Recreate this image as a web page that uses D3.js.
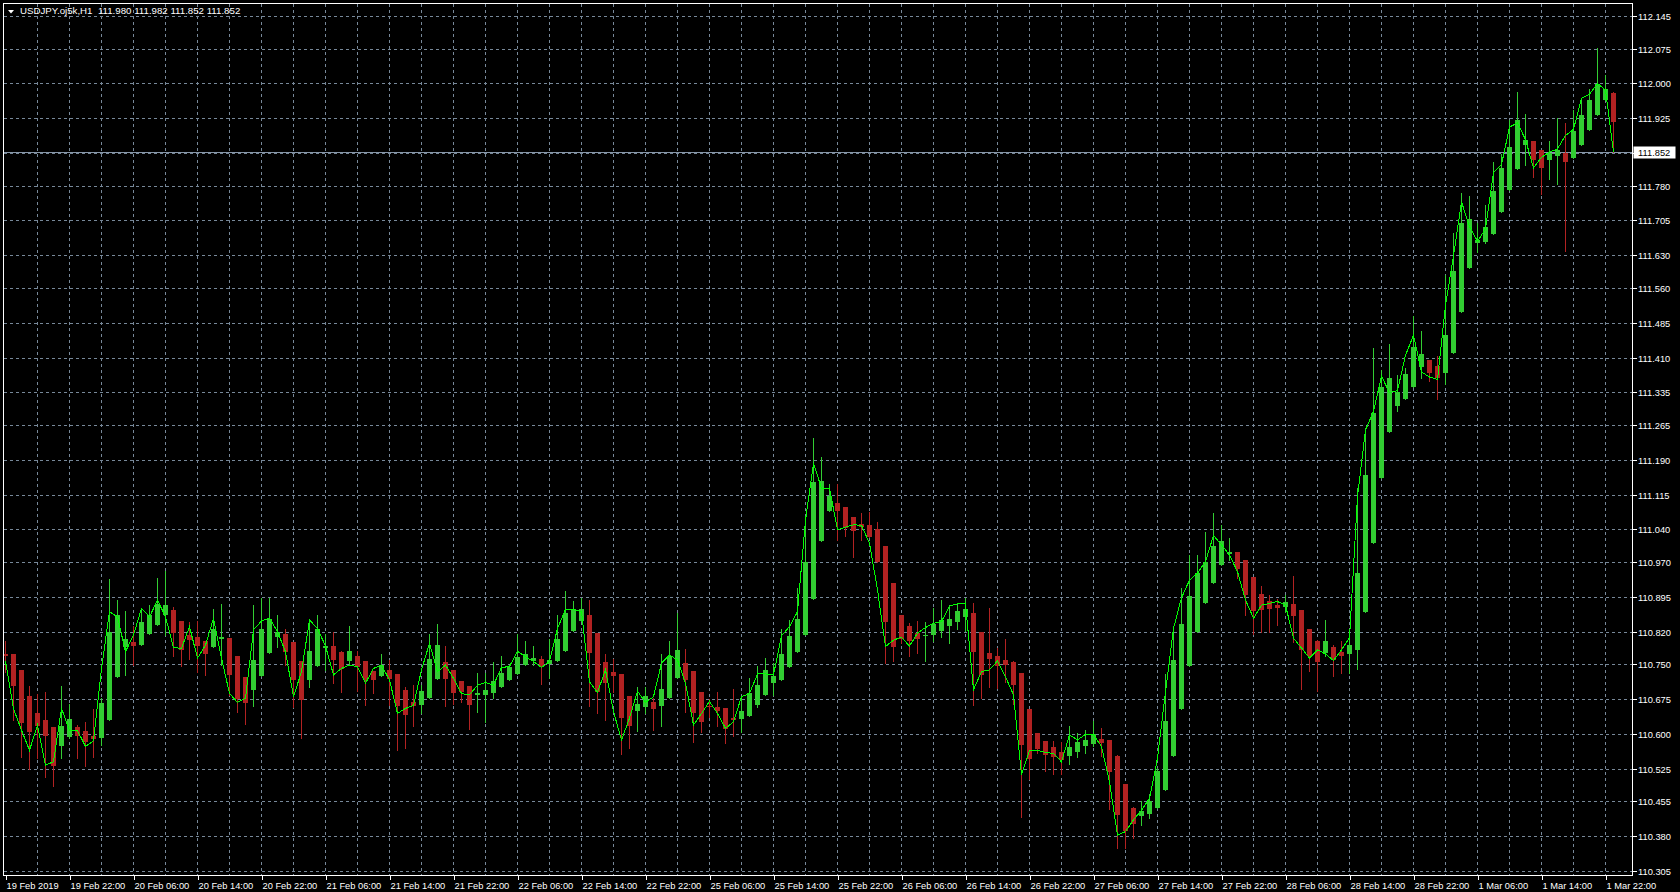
<!DOCTYPE html>
<html><head><meta charset="utf-8">
<script src="https://cdn.jsdelivr.net/npm/d3@7"></script>
<style>
html,body{margin:0;padding:0;background:#000;overflow:hidden}
svg{display:block}
text{font-family:"Liberation Sans",Arial,sans-serif;font-size:9.3px;fill:#fff}
</style></head><body>
<svg id="chart" width="1680" height="892"></svg>
<script>
const symbolTitle = "USDJPY.oj5k,H1  111.980 111.982 111.852 111.852";
const currentPrice = 111.852;

const opens = [110.773,110.772,110.738,110.682,110.646,110.630,110.615,110.573,110.594,110.614,
110.606,110.595,110.592,110.629,110.723,110.786,110.798,110.791,110.815,110.835,
110.856,110.867,110.843,110.813,110.809,110.800,110.786,110.805,110.807,110.768,
110.723,110.695,110.725,110.775,110.809,110.815,110.798,110.757,110.715,110.747,
110.784,110.789,110.777,110.758,110.768,110.757,110.735,110.725,110.738,110.729,
110.695,110.669,110.663,110.678,110.719,110.755,110.738,110.714,110.703,110.683,
110.684,110.689,110.700,110.715,110.728,110.748,110.758,110.761,110.751,110.756,
110.779,110.821,110.844,110.856,110.817,110.755,110.733,110.730,110.682,110.650,
110.657,110.669,110.661,110.678,110.721,110.753,110.735,110.690,110.661,110.659,
110.656,110.635,110.633,110.639,110.662,110.684,110.710,110.717,110.745,110.777,
110.812,110.891,111.016,111.080,111.097,111.088,111.066,111.052,111.050,111.040,
111.004,110.925,110.856,110.832,110.818,110.812,110.812,110.822,110.833,110.840,
110.852,110.860,110.819,110.774,110.768,110.759,110.754,110.731,110.654,110.601,
110.585,110.571,110.561,110.553,110.562,110.573,110.578,110.589,110.587,110.553,
110.492,110.441,110.424,110.428,110.441,110.479,110.553,110.654,110.747,110.820,
110.882,110.925,110.964,110.987,110.992,110.974,110.938,110.901,110.885,110.878,
110.873,110.880,110.866,110.825,110.799,110.774,110.788,110.776,110.772,110.781,
110.863,111.010,111.151,111.249,111.306,111.321,111.347,111.390,111.404,111.391,
111.377,111.419,111.507,111.602,111.656,111.658,111.675,111.723,111.770,111.815,
111.868,111.875,111.857,111.836,111.843,111.850,111.839,111.868,111.899,111.931,
111.964,111.980];

const highs = [110.799,110.773,110.738,110.703,110.685,110.690,110.615,110.703,110.664,110.619,
110.626,110.653,110.677,110.933,110.888,110.865,110.832,110.870,110.878,110.935,
110.951,110.873,110.843,110.840,110.843,110.800,110.869,110.879,110.807,110.768,
110.723,110.878,110.892,110.892,110.856,110.826,110.798,110.757,110.845,110.856,
110.814,110.820,110.779,110.832,110.778,110.757,110.735,110.772,110.759,110.730,
110.700,110.705,110.705,110.814,110.836,110.789,110.738,110.714,110.703,110.732,
110.732,110.755,110.768,110.748,110.814,110.799,110.789,110.768,110.804,110.856,
110.908,110.886,110.892,110.888,110.817,110.772,110.761,110.730,110.682,110.701,
110.701,110.677,110.772,110.800,110.861,110.783,110.735,110.690,110.675,110.690,
110.656,110.697,110.680,110.720,110.746,110.763,110.752,110.825,110.845,110.913,
111.062,111.236,111.195,111.137,111.138,111.088,111.066,111.075,111.078,111.055,
111.004,110.925,110.856,110.839,110.843,110.841,110.870,110.888,110.878,110.881,
110.893,110.882,110.819,110.871,110.784,110.804,110.757,110.731,110.654,110.601,
110.585,110.585,110.582,110.617,110.601,110.608,110.628,110.613,110.587,110.555,
110.492,110.443,110.456,110.470,110.526,110.728,110.827,110.913,110.985,110.986,
111.034,111.075,111.050,111.021,110.992,110.974,110.938,110.918,110.900,110.890,
110.899,110.940,110.866,110.825,110.803,110.845,110.791,110.799,110.815,111.129,
111.258,111.431,111.383,111.439,111.372,111.388,111.499,111.468,111.404,111.413,
111.587,111.678,111.765,111.758,111.700,111.738,111.830,111.848,111.922,111.982,
111.935,111.875,111.857,111.875,111.925,111.915,111.942,111.968,111.988,112.077,
112.017,111.982];

const lows = [110.734,110.629,110.551,110.525,110.549,110.507,110.489,110.548,110.591,110.549,
110.532,110.551,110.576,110.629,110.723,110.727,110.748,110.791,110.815,110.835,
110.813,110.768,110.747,110.761,110.733,110.727,110.786,110.748,110.684,110.648,
110.621,110.661,110.725,110.775,110.788,110.748,110.657,110.592,110.700,110.747,
110.738,110.710,110.691,110.748,110.692,110.663,110.689,110.725,110.662,110.566,
110.569,110.616,110.644,110.678,110.719,110.661,110.664,110.668,110.610,110.648,
110.626,110.678,110.700,110.715,110.728,110.748,110.748,110.708,110.720,110.756,
110.779,110.821,110.844,110.661,110.644,110.629,110.691,110.556,110.569,110.607,
110.644,110.608,110.618,110.678,110.721,110.648,110.582,110.605,110.636,110.616,
110.580,110.596,110.605,110.639,110.659,110.684,110.684,110.717,110.745,110.777,
110.812,110.891,111.016,111.080,111.017,111.026,110.981,111.017,111.024,110.970,
110.752,110.756,110.795,110.768,110.775,110.758,110.799,110.809,110.795,110.825,
110.822,110.663,110.677,110.700,110.698,110.712,110.664,110.422,110.504,110.558,
110.521,110.513,110.513,110.535,110.551,110.560,110.575,110.553,110.438,110.355,
110.354,110.377,110.405,110.418,110.441,110.479,110.553,110.654,110.747,110.820,
110.882,110.925,110.964,110.974,110.935,110.856,110.814,110.820,110.820,110.834,
110.863,110.797,110.696,110.736,110.693,110.767,110.725,110.732,110.732,110.740,
110.863,111.010,111.151,111.249,111.296,111.320,111.347,111.366,111.359,111.321,
111.354,111.419,111.507,111.602,111.638,111.656,111.675,111.723,111.770,111.815,
111.824,111.799,111.763,111.794,111.783,111.640,111.839,111.868,111.899,111.931,
111.964,111.852];

const closes = [110.768,110.704,110.624,110.605,110.616,110.596,110.532,110.616,110.632,110.596,
110.583,110.590,110.667,110.820,110.856,110.804,110.790,110.841,110.856,110.879,
110.878,110.818,110.781,110.802,110.789,110.772,110.825,110.809,110.727,110.675,
110.667,110.759,110.826,110.847,110.820,110.776,110.716,110.673,110.779,110.826,
110.789,110.759,110.740,110.778,110.745,110.715,110.717,110.748,110.719,110.661,
110.641,110.661,110.692,110.761,110.791,110.719,110.689,110.691,110.663,110.689,
110.695,110.714,110.732,110.744,110.766,110.771,110.763,110.745,110.759,110.804,
110.860,110.869,110.869,110.775,110.691,110.710,110.725,110.635,110.618,110.664,
110.682,110.654,110.697,110.768,110.781,110.717,110.646,110.626,110.657,110.650,
110.611,110.631,110.649,110.689,110.705,110.738,110.725,110.772,110.811,110.847,
110.970,111.143,111.144,111.113,111.080,111.044,111.037,111.045,111.024,110.970,
110.841,110.788,110.804,110.800,110.804,110.813,110.837,110.845,110.847,110.865,
110.869,110.777,110.727,110.761,110.746,110.749,110.705,110.576,110.546,110.568,
110.555,110.551,110.544,110.571,110.583,110.587,110.600,110.581,110.519,110.426,
110.392,110.407,110.434,110.456,110.520,110.628,110.759,110.837,110.897,110.946,
110.969,111.005,111.015,110.991,110.955,110.899,110.865,110.867,110.869,110.871,
110.883,110.854,110.781,110.767,110.754,110.799,110.760,110.767,110.792,110.946,
111.158,111.290,111.346,111.367,111.336,111.374,111.432,111.417,111.376,111.366,
111.459,111.596,111.699,111.709,111.663,111.691,111.768,111.818,111.863,111.921,
111.879,111.836,111.818,111.850,111.857,111.830,111.897,111.932,111.964,111.999,
111.988,111.916];

const lineValues = [110.756,110.654,110.608,110.565,110.619,110.533,110.540,110.655,110.608,110.607,
110.573,110.585,110.741,110.863,110.852,110.777,110.813,110.870,110.852,110.888,
110.852,110.786,110.784,110.831,110.763,110.791,110.849,110.763,110.687,110.668,
110.677,110.824,110.843,110.849,110.820,110.777,110.680,110.734,110.845,110.827,
110.789,110.727,110.741,110.748,110.745,110.709,110.741,110.748,110.716,110.644,
110.655,110.661,110.738,110.795,110.734,110.748,110.720,110.687,110.684,110.705,
110.711,110.705,110.743,110.745,110.778,110.766,110.756,110.743,110.756,110.827,
110.868,110.868,110.863,110.712,110.689,110.738,110.648,110.587,110.634,110.692,
110.668,110.680,110.752,110.770,110.759,110.709,110.619,110.644,110.670,110.644,
110.612,110.626,110.680,110.687,110.729,110.729,110.727,110.811,110.831,110.863,
111.060,111.182,111.129,111.129,111.039,111.045,111.050,111.049,111.010,110.910,
110.788,110.802,110.808,110.789,110.817,110.829,110.838,110.842,110.875,110.880,
110.881,110.695,110.734,110.738,110.757,110.723,110.684,110.512,110.565,110.565,
110.560,110.558,110.540,110.598,110.587,110.599,110.598,110.573,110.497,110.382,
110.390,110.415,110.436,110.461,110.548,110.691,110.827,110.893,110.931,110.946,
110.971,111.027,111.007,110.985,110.949,110.888,110.849,110.877,110.881,110.885,
110.877,110.806,110.785,110.763,110.781,110.772,110.758,110.781,110.807,111.111,
111.254,111.294,111.370,111.334,111.339,111.415,111.458,111.379,111.368,111.363,
111.522,111.629,111.745,111.692,111.660,111.687,111.808,111.825,111.906,111.915,
111.879,111.818,111.841,111.852,111.859,111.888,111.901,111.968,111.977,111.999,
111.986,111.852];

const priceTicks = [112.145,112.075,112.000,111.925,111.850,111.780,111.705,111.630,111.560,111.485,
111.410,111.335,111.265,111.190,111.115,111.040,110.970,110.895,110.820,110.750,
110.675,110.600,110.525,110.455,110.380,110.305];

const timeLabelBars = [0,8,16,24,32,40,48,56,64,72,80,88,96,104,112,120,128,136,144,152,160,168,176,184,192,200];
const timeLabels = ["19 Feb 2019","19 Feb 22:00","20 Feb 06:00","20 Feb 14:00","20 Feb 22:00","21 Feb 06:00",
"21 Feb 14:00","21 Feb 22:00","22 Feb 06:00","22 Feb 14:00","22 Feb 22:00","25 Feb 06:00","25 Feb 14:00",
"25 Feb 22:00","26 Feb 06:00","26 Feb 14:00","26 Feb 22:00","27 Feb 06:00","27 Feb 14:00","27 Feb 22:00",
"28 Feb 06:00","28 Feb 14:00","28 Feb 22:00","1 Mar 06:00","1 Mar 14:00","1 Mar 22:00"];

// ---------- layout ----------
const W = 1680, H = 892;
const plot = {left: 3.5, top: 3.5, right: 1632.5, bottom: 875.5};
const N = opens.length;
const barStep = 8, bodyW = 5;
const COL_UP = "#32cd32", COL_DN = "#b22222", COL_LINE = "#00ff00", COL_GRID = "#778899";

const svg = d3.select("#chart");
svg.append("rect").attr("width", W).attr("height", H).attr("fill", "#000");

const x = d3.scaleLinear().domain([0, N - 1]).range([5.5, 5.5 + barStep * (N - 1)]);
const y = d3.scaleLinear().domain([110.305, 112.145]).range([871, 16]);
const py = v => Math.round(y(v)) + 0.5;

svg.append("clipPath").attr("id", "clip").append("rect")
  .attr("x", plot.left + 0.5).attr("y", plot.top + 0.5)
  .attr("width", plot.right - plot.left - 1).attr("height", plot.bottom - plot.top - 1);

const g = svg.append("g").attr("clip-path", "url(#clip)");

// grid
const grid = g.append("g").attr("stroke", COL_GRID).attr("stroke-width", 1)
  .attr("stroke-dasharray", "3,3").attr("shape-rendering", "crispEdges");
grid.selectAll("line.h").data(priceTicks).join("line").attr("class", "h")
  .attr("x1", plot.left).attr("x2", plot.right).attr("y1", py).attr("y2", py);
grid.selectAll("line.v").data(d3.range(4, N, 4)).join("line").attr("class", "v")
  .attr("x1", d => x(d)).attr("x2", d => x(d)).attr("y1", plot.top).attr("y2", plot.bottom);

// current price line
g.append("line").attr("x1", plot.left).attr("x2", plot.right)
  .attr("y1", py(currentPrice)).attr("y2", py(currentPrice))
  .attr("stroke", "#8796a8").attr("shape-rendering", "crispEdges");

// candles
const bars = d3.range(N).map(i => ({i, o: opens[i], h: highs[i], l: lows[i], c: closes[i]}));
const cg = g.append("g").attr("shape-rendering", "crispEdges");
cg.selectAll("line.wick").data(bars).join("line").attr("class", "wick")
  .attr("x1", d => x(d.i)).attr("x2", d => x(d.i))
  .attr("y1", d => Math.round(y(d.h))).attr("y2", d => Math.round(y(d.l)) + 1)
  .attr("stroke", d => d.c >= d.o ? COL_UP : COL_DN);
cg.selectAll("rect.body").data(bars).join("rect").attr("class", "body")
  .attr("x", d => x(d.i) - bodyW / 2)
  .attr("width", bodyW)
  .attr("y", d => Math.round(y(Math.max(d.o, d.c))))
  .attr("height", d => Math.max(1, Math.round(y(Math.min(d.o, d.c))) - Math.round(y(Math.max(d.o, d.c)))))
  .attr("fill", d => d.c >= d.o ? COL_UP : COL_DN);

// line overlay
const line = d3.line().x((d, i) => x(i)).y(d => y(d));
g.append("path").datum(lineValues).attr("d", line)
  .attr("fill", "none").attr("stroke", COL_LINE).attr("stroke-width", 1)
  .attr("shape-rendering", "crispEdges");

// frame
svg.append("rect").attr("x", plot.left).attr("y", plot.top)
  .attr("width", plot.right - plot.left).attr("height", plot.bottom - plot.top)
  .attr("fill", "none").attr("stroke", "#fff").attr("shape-rendering", "crispEdges");

// price axis
const yAxis = d3.axisRight(y).tickValues(priceTicks).tickSize(4).tickPadding(1.5).tickFormat(d3.format(".3f"));
const ya = svg.append("g").attr("transform", `translate(${plot.right},0)`).call(yAxis);
ya.select(".domain").remove();
ya.selectAll(".tick").attr("transform", d => `translate(0,${py(d)})`);
ya.selectAll(".tick line").attr("stroke", "#fff").attr("shape-rendering", "crispEdges");
ya.selectAll(".tick text").attr("fill", "#fff").attr("font-family", null).attr("font-size", null).attr("dy", "0.34em");

// current price box
const cpY = py(currentPrice);
svg.append("rect").attr("x", 1633.5).attr("y", cpY - 6).attr("width", 42).attr("height", 12)
  .attr("fill", "#fff");
svg.append("text").attr("x", 1638).attr("y", cpY).attr("dy", "0.34em")
  .style("fill", "#000").text(d3.format(".3f")(currentPrice));

// time axis
const xAxis = d3.axisBottom(x).tickValues(timeLabelBars).tickSize(4).tickPadding(3)
  .tickFormat((d, i) => timeLabels[i]);
const xa = svg.append("g").attr("transform", `translate(0,${plot.bottom})`).call(xAxis);
xa.select(".domain").remove();
xa.selectAll(".tick line").attr("stroke", "#fff").attr("shape-rendering", "crispEdges");
xa.selectAll(".tick text").attr("fill", "#fff").attr("font-family", null).attr("font-size", null)
  .attr("text-anchor", "start").attr("x", 0.5);

// header
svg.append("path").attr("d", "M8,10 L14,10 L11,13.5 Z").attr("fill", "#fff");
svg.append("text").attr("x", 20).attr("y", 14.3).style("font-size", "9.7px")
  .style("white-space", "pre").attr("xml:space", "preserve").text(symbolTitle);
</script>
</body></html>
